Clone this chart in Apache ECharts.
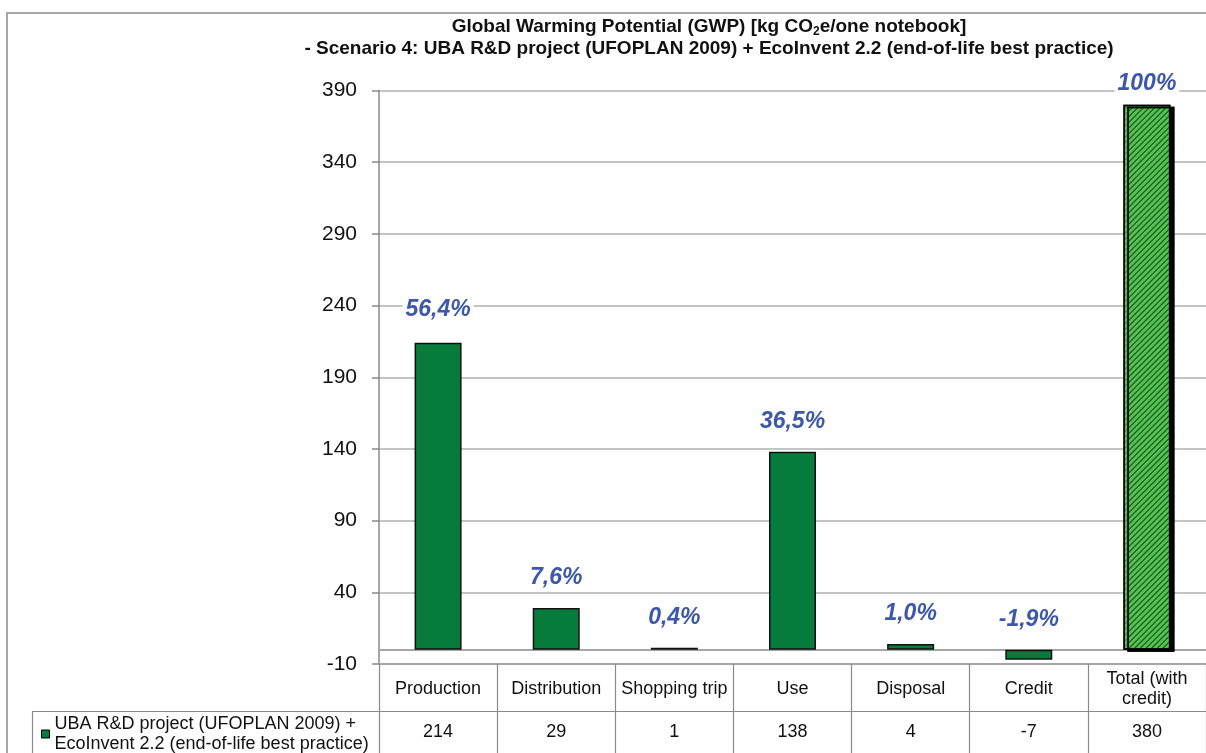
<!DOCTYPE html>
<html><head><meta charset="utf-8">
<script src="https://cdn.jsdelivr.net/npm/echarts@6/dist/echarts.min.js"></script>
<style>html,body{margin:0;padding:0;background:#fff}#c{width:1206px;height:753px}</style>
</head><body><div id="c"></div>
<script>
const categories = ['Production', 'Distribution', 'Shopping trip', 'Use', 'Disposal', 'Credit', 'Total (with\ncredit)'];
const values = [214, 29, 1, 138, 4, -7, 380];
const shareLabels = ['56,4%', '7,6%', '0,4%', '36,5%', '1,0%', '-1,9%', '100%'];
const yTicks = [-10, 40, 90, 140, 190, 240, 290, 340, 390];
const seriesName = 'UBA R&D project (UFOPLAN 2009) +\nEcoInvent 2.2 (end-of-life best practice)';

const FONT = '"Liberation Sans", Arial, sans-serif';
const GREEN = '#077b3c';
const GRID = {left: 379, right: 0, top: 90.5, bottom: 89};

const lastIdx = values.length - 1;
const seriesData = values.map((v, i) => {
  const item = {value: v, label: {distance: i === 0 ? 21 : (i === lastIdx ? 9 : 18)}};
  if (i === lastIdx) {
    item.itemStyle = {
      color: '#55c455',
      borderColor: '#000',
      borderWidth: 1.5,
      shadowColor: '#000',
      shadowOffsetX: 4,
      shadowOffsetY: 2,
      shadowBlur: 0,
      decal: {
        symbol: 'rect',
        symbolSize: 1,
        dashArrayX: [[1, 0]],
        dashArrayY: [1, 3],
        rotation: -Math.PI / 4,
        color: 'rgba(25,120,30,0.7)'
      }
    };
  }
  return item;
});

const chart = echarts.init(document.getElementById('c'), null, {renderer: 'canvas'});
chart.setOption({
  animation: false,
  backgroundColor: '#fff',
  title: {
    left: 709,
    top: 16,
    padding: 0,
    textAlign: 'center',
    text: '{b|Global Warming Potential (GWP) [kg CO}{s|2}{b|e/one notebook]}\n{b|- Scenario 4: UBA R&D project (UFOPLAN 2009) + EcoInvent 2.2 (end-of-life best practice)}',
    textStyle: {
      rich: {
        b: {fontFamily: FONT, fontWeight: 'bold', fontSize: 19, lineHeight: 22, color: '#111'},
        s: {fontFamily: FONT, fontWeight: 'bold', fontSize: 12, lineHeight: 22, verticalAlign: 'bottom', color: '#111', padding: [0, 0, 0, 0]}
      }
    }
  },
  legend: {
    left: 36,
    top: 709,
    icon: 'rect',
    itemWidth: 8,
    itemHeight: 8,
    itemGap: 6,
    selectedMode: false,
    itemStyle: {borderColor: '#000', borderWidth: 1},
    textStyle: {fontFamily: FONT, fontSize: 18, lineHeight: 20, color: '#111'},
    data: [seriesName]
  },
  grid: {left: GRID.left, right: GRID.right, top: GRID.top, bottom: GRID.bottom, containLabel: false},
  xAxis: [
    {
      type: 'category',
      data: categories,
      axisLine: {onZero: true, lineStyle: {color: '#a6a6a6', width: 2}},
      axisTick: {show: false},
      splitLine: {show: false},
      axisLabel: {
        interval: 0, margin: 25, verticalAlign: 'middle',
        fontFamily: FONT, fontSize: 18, lineHeight: 20, color: '#111'
      },
      z: 1
    },
    {
      type: 'category',
      position: 'bottom',
      data: values.map(v => String(v)),
      axisLine: {onZero: false, show: true, lineStyle: {color: '#a6a6a6', width: 2}},
      axisTick: {show: true, interval: 0, alignWithLabel: false, length: 92, lineStyle: {color: '#8a8a8a', width: 1.2}},
      axisLabel: {
        interval: 0, margin: 68, verticalAlign: 'middle',
        fontFamily: FONT, fontSize: 18, color: '#111'
      }
    }
  ],
  yAxis: {
    type: 'value',
    min: yTicks[0],
    max: yTicks[yTicks.length - 1],
    interval: yTicks[1] - yTicks[0],
    axisLine: {show: true, lineStyle: {color: '#8a8a8a', width: 1.5}},
    axisTick: {show: true, length: 7, lineStyle: {color: '#8a8a8a', width: 1.5}},
    splitLine: {show: true, lineStyle: {color: '#c4c4c4', width: 2}},
    axisLabel: {margin: 22, fontFamily: FONT, fontSize: 21, color: '#111'}
  },
  series: [{
    type: 'bar',
    name: seriesName,
    xAxisIndex: 0,
    data: seriesData,
    barWidth: 47,
    barMinHeight: 2,
    itemStyle: {color: GREEN, borderColor: '#111', borderWidth: 1.5},
    label: {
      show: true,
      position: 'top',
      formatter: p => shareLabels[p.dataIndex],
      fontFamily: FONT, fontSize: 23, fontWeight: 'bold', fontStyle: 'italic',
      color: '#3c57ab',
      backgroundColor: '#fff',
      padding: [1, 3]
    },
    z: 3
  }],
  graphic: [
    {type: 'rect', z: -10, silent: true,
     shape: {x: 7, y: 13, width: 1400, height: 900},
     style: {fill: 'none', stroke: '#a8a8a8', lineWidth: 2}},
    {type: 'line', z: 10, silent: true,
     shape: {x1: 32, y1: 711.5, x2: 1206, y2: 711.5},
     style: {stroke: '#8a8a8a', lineWidth: 1.2}},
    {type: 'line', z: 10, silent: true,
     shape: {x1: 32.5, y1: 711.5, x2: 32.5, y2: 760},
     style: {stroke: '#8a8a8a', lineWidth: 1.2}}
  ]
});
</script>
</body></html>
